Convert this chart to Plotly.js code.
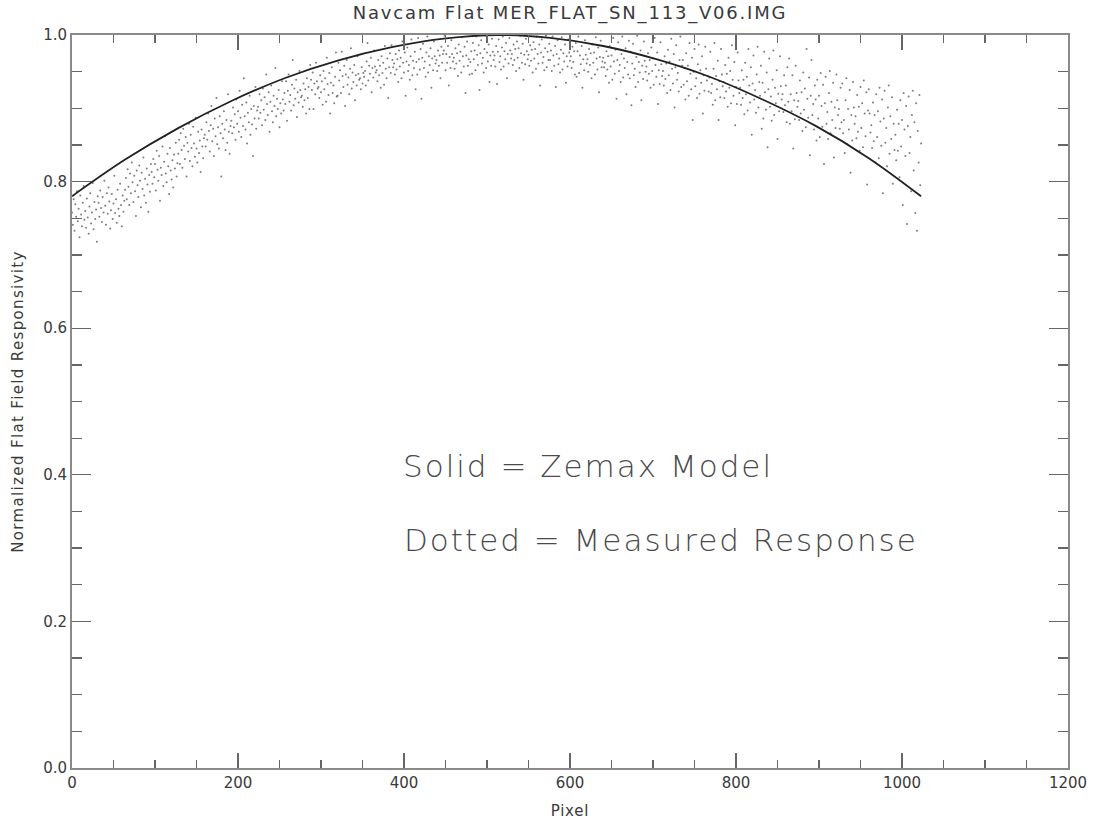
<!DOCTYPE html>
<html>
<head>
<meta charset="utf-8">
<script src="https://cdn.plot.ly/plotly-3.0.1.min.js"></script>
<style>
  html, body { margin: 0; padding: 0; background: #ffffff; }
  #chart { width: 1096px; height: 822px; }
  #chart .gtitle { letter-spacing: 1.8px; }
  #chart .xtitle { letter-spacing: 0.8px; }
  #chart .ytitle { letter-spacing: 1.35px; }
  #chart .annotation-text { letter-spacing: 2px; }
</style>
</head>
<body>
<div id="chart"></div>
<script>
// ---- Zemax model (solid line) ----
const modelPixel = [0, 64, 128, 192, 256, 320, 384, 448, 512, 576, 640, 704, 768, 832, 896, 960, 1023];
const modelResponse = [0.780, 0.830, 0.873, 0.910, 0.941, 0.965, 0.983, 0.995, 1.000, 0.996, 0.985, 0.967, 0.943, 0.912, 0.876, 0.832, 0.780];

// ---- Measured response (dots), one value per pixel column ----
const measuredPixel = [
  0,1,2,3,4,5,6,7,8,9,10,11,12,13,14,15,16,17,18,19,20,21,22,23,24,25,26,27,28,29,30,31,
  32,33,34,35,36,37,38,39,40,41,42,43,44,45,46,47,48,49,50,51,52,53,54,55,56,57,58,59,60,61,62,63,
  64,65,66,67,68,69,70,71,72,73,74,75,76,77,78,79,80,81,82,83,84,85,86,87,88,89,90,91,92,93,94,95,
  96,97,98,99,100,101,102,103,104,105,106,107,108,109,110,111,112,113,114,115,116,117,118,119,120,121,122,123,124,125,126,127,
  128,129,130,131,132,133,134,135,136,137,138,139,140,141,142,143,144,145,146,147,148,149,150,151,152,153,154,155,156,157,158,159,
  160,161,162,163,164,165,166,167,168,169,170,171,172,173,174,175,176,177,178,179,180,181,182,183,184,185,186,187,188,189,190,191,
  192,193,194,195,196,197,198,199,200,201,202,203,204,205,206,207,208,209,210,211,212,213,214,215,216,217,218,219,220,221,222,223,
  224,225,226,227,228,229,230,231,232,233,234,235,236,237,238,239,240,241,242,243,244,245,246,247,248,249,250,251,252,253,254,255,
  256,257,258,259,260,261,262,263,264,265,266,267,268,269,270,271,272,273,274,275,276,277,278,279,280,281,282,283,284,285,286,287,
  288,289,290,291,292,293,294,295,296,297,298,299,300,301,302,303,304,305,306,307,308,309,310,311,312,313,314,315,316,317,318,319,
  320,321,322,323,324,325,326,327,328,329,330,331,332,333,334,335,336,337,338,339,340,341,342,343,344,345,346,347,348,349,350,351,
  352,353,354,355,356,357,358,359,360,361,362,363,364,365,366,367,368,369,370,371,372,373,374,375,376,377,378,379,380,381,382,383,
  384,385,386,387,388,389,390,391,392,393,394,395,396,397,398,399,400,401,402,403,404,405,406,407,408,409,410,411,412,413,414,415,
  416,417,418,419,420,421,422,423,424,425,426,427,428,429,430,431,432,433,434,435,436,437,438,439,440,441,442,443,444,445,446,447,
  448,449,450,451,452,453,454,455,456,457,458,459,460,461,462,463,464,465,466,467,468,469,470,471,472,473,474,475,476,477,478,479,
  480,481,482,483,484,485,486,487,488,489,490,491,492,493,494,495,496,497,498,499,500,501,502,503,504,505,506,507,508,509,510,511,
  512,513,514,515,516,517,518,519,520,521,522,523,524,525,526,527,528,529,530,531,532,533,534,535,536,537,538,539,540,541,542,543,
  544,545,546,547,548,549,550,551,552,553,554,555,556,557,558,559,560,561,562,563,564,565,566,567,568,569,570,571,572,573,574,575,
  576,577,578,579,580,581,582,583,584,585,586,587,588,589,590,591,592,593,594,595,596,597,598,599,600,601,602,603,604,605,606,607,
  608,609,610,611,612,613,614,615,616,617,618,619,620,621,622,623,624,625,626,627,628,629,630,631,632,633,634,635,636,637,638,639,
  640,641,642,643,644,645,646,647,648,649,650,651,652,653,654,655,656,657,658,659,660,661,662,663,664,665,666,667,668,669,670,671,
  672,673,674,675,676,677,678,679,680,681,682,683,684,685,686,687,688,689,690,691,692,693,694,695,696,697,698,699,700,701,702,703,
  704,705,706,707,708,709,710,711,712,713,714,715,716,717,718,719,720,721,722,723,724,725,726,727,728,729,730,731,732,733,734,735,
  736,737,738,739,740,741,742,743,744,745,746,747,748,749,750,751,752,753,754,755,756,757,758,759,760,761,762,763,764,765,766,767,
  768,769,770,771,772,773,774,775,776,777,778,779,780,781,782,783,784,785,786,787,788,789,790,791,792,793,794,795,796,797,798,799,
  800,801,802,803,804,805,806,807,808,809,810,811,812,813,814,815,816,817,818,819,820,821,822,823,824,825,826,827,828,829,830,831,
  832,833,834,835,836,837,838,839,840,841,842,843,844,845,846,847,848,849,850,851,852,853,854,855,856,857,858,859,860,861,862,863,
  864,865,866,867,868,869,870,871,872,873,874,875,876,877,878,879,880,881,882,883,884,885,886,887,888,889,890,891,892,893,894,895,
  896,897,898,899,900,901,902,903,904,905,906,907,908,909,910,911,912,913,914,915,916,917,918,919,920,921,922,923,924,925,926,927,
  928,929,930,931,932,933,934,935,936,937,938,939,940,941,942,943,944,945,946,947,948,949,950,951,952,953,954,955,956,957,958,959,
  960,961,962,963,964,965,966,967,968,969,970,971,972,973,974,975,976,977,978,979,980,981,982,983,984,985,986,987,988,989,990,991,
  992,993,994,995,996,997,998,999,1000,1001,1002,1003,1004,1005,1006,1007,1008,1009,1010,1011,1012,1013,1014,1015,1016,1017,1018,1019,1020,1021,1022,1023
];
const measuredResponse = [
  .758,.741,.776,.733,.769,.752,.787,.746,.763,.724,.781,.755,.739,.771,.794,.748,.760,.737,.777,.751,.729,.766,.784,.743,.758,.798,.735,.772,.749,.762,.718,.780,
  .771,.752,.788,.764,.745,.779,.758,.801,.767,.741,.784,.756,.792,.773,.736,.761,.783,.749,.770,.808,.757,.776,.744,.789,.763,.753,.797,.768,.739,.781,.759,.774,
  .789,.805,.776,.817,.793,.768,.811,.784,.826,.799,.772,.808,.787,.753,.815,.795,.779,.822,.801,.765,.812,.790,.833,.781,.804,.771,.818,.796,.759,.809,.786,.824,
  .813,.797,.831,.806,.824,.788,.842,.816,.801,.835,.774,.819,.809,.848,.794,.827,.862,.811,.799,.838,.821,.783,.846,.815,.803,.829,.792,.837,.818,.853,.807,.825,
  .838,.857,.824,.866,.843,.819,.872,.849,.831,.861,.807,.853,.841,.879,.828,.864,.846,.821,.875,.852,.834,.887,.845,.826,.868,.839,.856,.813,.871,.848,.832,.859,
  .864,.848,.881,.857,.893,.869,.841,.877,.903,.855,.872,.835,.886,.862,.914,.851,.874,.845,.889,.866,.807,.879,.859,.896,.871,.843,.884,.853,.919,.868,.838,.876,
  .883,.866,.901,.874,.892,.857,.912,.879,.896,.868,.924,.887,.861,.905,.876,.941,.889,.871,.908,.852,.894,.881,.917,.864,.899,.878,.835,.903,.886,.929,.872,.897,
  .902,.886,.919,.894,.911,.877,.927,.898,.915,.884,.946,.906,.891,.922,.868,.909,.931,.896,.881,.917,.903,.955,.889,.913,.899,.925,.874,.907,.893,.937,.912,.897,
  .921,.906,.937,.883,.924,.946,.909,.918,.897,.932,.966,.904,.927,.913,.939,.888,.922,.908,.951,.925,.915,.917,.902,.934,.911,.926,.893,.941,.914,.929,.899,.959,
  .939,.925,.949,.899,.934,.919,.962,.937,.927,.929,.914,.945,.922,.937,.905,.951,.926,.941,.909,.969,.933,.918,.948,.893,.935,.956,.921,.931,.907,.943,.976,.916,
  .917,.962,.938,.952,.921,.977,.944,.929,.958,.903,.946,.966,.932,.942,.919,.954,.982,.927,.949,.936,.959,.911,.945,.931,.971,.947,.939,.941,.926,.956,.934,.948,
  .943,.951,.931,.964,.989,.938,.958,.947,.969,.922,.955,.942,.979,.957,.949,.952,.937,.966,.945,.958,.928,.971,.948,.962,.932,.985,.954,.941,.968,.914,.956,.975,
  .948,.986,.966,.956,.961,.946,.974,.953,.967,.936,.979,.957,.969,.941,.991,.962,.949,.976,.917,.964,.983,.951,.959,.939,.971,.994,.945,.965,.955,.977,.926,.963,
  .946,.996,.967,.953,.981,.913,.969,.988,.955,.964,.943,.976,.998,.949,.971,.959,.982,.928,.968,.952,.991,.971,.961,.966,.951,.979,.958,.972,.941,.984,.962,.974,
  .979,.999,.952,.974,.962,.985,.931,.970,.955,.993,.974,.964,.969,.954,.982,.961,.975,.944,.987,.965,.977,.949,.997,.971,.957,.984,.921,.972,.991,.958,.967,.946,
  .963,.978,.947,.989,.967,.979,.952,.998,.973,.959,.986,.925,.975,.993,.961,.969,.949,.981,.999,.955,.976,.964,.987,.936,.972,.958,.995,.977,.966,.972,.957,.985,
  .933,.977,.994,.963,.971,.953,.983,.998,.957,.978,.967,.989,.941,.974,.961,.996,.979,.968,.974,.959,.987,.966,.981,.951,.991,.969,.982,.955,.999,.975,.962,.988,
  .939,.973,.960,.995,.978,.967,.973,.958,.986,.965,.980,.949,.990,.968,.981,.954,.998,.974,.961,.987,.931,.976,.994,.962,.970,.952,.982,.999,.956,.977,.966,.988,
  .966,.979,.951,.998,.972,.958,.985,.929,.974,.993,.960,.968,.949,.980,.997,.953,.975,.964,.987,.935,.971,.957,.994,.976,.965,.971,.955,.984,.963,.978,.946,.989,
  .943,.978,.998,.948,.972,.960,.985,.928,.967,.952,.993,.973,.961,.967,.950,.981,.959,.975,.941,.987,.962,.976,.946,.997,.968,.953,.983,.922,.970,.992,.956,.964,
  .969,.956,.962,.944,.978,.953,.971,.935,.985,.957,.972,.939,.996,.964,.947,.980,.913,.966,.990,.951,.959,.936,.974,.998,.942,.968,.955,.982,.919,.963,.946,.992,
  .941,.977,.904,.961,.988,.945,.954,.929,.970,.999,.936,.963,.949,.979,.911,.958,.940,.991,.965,.950,.957,.938,.975,.947,.966,.928,.983,.951,.968,.932,.996,.959,
  .943,.976,.906,.952,.933,.990,.960,.944,.951,.931,.971,.940,.961,.921,.980,.945,.964,.925,.995,.954,.934,.974,.901,.956,.986,.939,.948,.923,.966,.998,.929,.958,
  .966,.932,.955,.912,.975,.937,.958,.917,.989,.947,.926,.969,.884,.950,.981,.930,.941,.914,.960,.987,.920,.952,.935,.971,.893,.945,.924,.984,.954,.938,.944,.923,
  .942,.977,.921,.933,.905,.954,.989,.911,.944,.926,.965,.884,.937,.915,.981,.946,.930,.936,.914,.959,.923,.947,.902,.969,.928,.951,.907,.986,.939,.917,.963,.877,
  .929,.906,.976,.938,.921,.928,.905,.952,.914,.939,.892,.962,.919,.943,.897,.981,.931,.908,.956,.864,.934,.972,.912,.925,.894,.946,.984,.901,.936,.917,.958,.872,
  .935,.886,.977,.922,.898,.949,.847,.926,.968,.902,.916,.883,.939,.979,.891,.928,.907,.952,.858,.920,.896,.971,.930,.912,.919,.895,.945,.904,.931,.881,.956,.909,
  .968,.879,.919,.896,.945,.845,.911,.885,.958,.921,.902,.910,.884,.938,.893,.922,.869,.949,.898,.927,.874,.981,.913,.887,.942,.836,.917,.966,.891,.906,.871,.931,
  .912,.856,.939,.886,.917,.861,.948,.903,.875,.932,.824,.907,.943,.879,.895,.858,.921,.951,.866,.909,.884,.935,.833,.901,.873,.946,.911,.891,.899,.872,.928,.881,
  .934,.866,.884,.839,.911,.941,.851,.899,.871,.925,.812,.891,.856,.936,.901,.879,.889,.859,.918,.868,.902,.842,.929,.873,.907,.847,.938,.893,.862,.922,.796,.897,
  .926,.893,.867,.877,.846,.908,.855,.891,.826,.919,.861,.896,.832,.928,.882,.849,.912,.784,.886,.924,.853,.873,.821,.901,.931,.838,.889,.858,.915,.797,.879,.843,
  .864,.829,.898,.842,.879,.806,.911,.848,.884,.768,.921,.871,.835,.903,.742,.876,.916,.839,.861,.787,.891,.924,.815,.881,.757,.907,.733,.869,.826,.918,.795,.852
];

// ---- Text ----
const chartTitle = 'Navcam Flat MER_FLAT_SN_113_V06.IMG';
const xTitle = 'Pixel';
const yTitle = 'Normalized Flat Field Responsivity';
const noteSolid = 'Solid = Zemax Model';
const noteDotted = 'Dotted = Measured Response';

const FONT = 'DejaVu Sans, sans-serif';
const TXT = '#3a3a3a';
const AX = '#8a8a8a';

const traces = [
  {
    x: measuredPixel, y: measuredResponse,
    type: 'scatter', mode: 'markers',
    marker: { size: 2, color: '#444444', opacity: 0.7 },
    hoverinfo: 'skip', showlegend: false
  },
  {
    x: modelPixel, y: modelResponse,
    type: 'scatter', mode: 'lines',
    line: { color: '#222222', width: 1.8, shape: 'spline', smoothing: 1.0 },
    hoverinfo: 'skip', showlegend: false
  }
];

const axisCommon = {
  showgrid: false, zeroline: false,
  showline: true, linecolor: AX, linewidth: 2,
  ticks: 'inside', tickcolor: '#666666', tickwidth: 1.3,
  mirror: 'ticks',
  tickfont: { family: FONT, size: 15, color: TXT },
  fixedrange: true
};

const layout = {
  width: 1096, height: 822,
  margin: { l: 72, r: 28, t: 35, b: 54 },
  paper_bgcolor: '#ffffff', plot_bgcolor: '#ffffff',
  font: { family: FONT, color: TXT },
  title: {
    text: chartTitle,
    font: { family: FONT, size: 18, color: TXT },
    x: 0.5, xref: 'paper', xanchor: 'center',
    y: 1 - 13 / 822, yref: 'container', yanchor: 'middle'
  },
  xaxis: Object.assign({}, axisCommon, {
    range: [0, 1200], tick0: 0, dtick: 200, ticklen: 15,
    minor: { dtick: 50, ticklen: 8, ticks: 'inside', tickcolor: '#666666', tickwidth: 1.3 },
    title: { text: xTitle, font: { family: FONT, size: 15, color: TXT }, standoff: 14 }
  }),
  yaxis: Object.assign({}, axisCommon, {
    range: [0, 1.0], tick0: 0, dtick: 0.2, tickformat: '.1f', ticklen: 19,
    minor: { dtick: 0.05, ticklen: 10, ticks: 'inside', tickcolor: '#666666', tickwidth: 1.3 },
    title: { text: yTitle, font: { family: FONT, size: 15, color: TXT }, standoff: 16 }
  }),
  annotations: [
    { x: 622, y: 0.412, xref: 'x', yref: 'y', text: noteSolid, showarrow: false,
      xanchor: 'center', yanchor: 'middle', font: { family: FONT, size: 31, color: '#4a4a4a', weight: 200 } },
    { x: 710, y: 0.311, xref: 'x', yref: 'y', text: noteDotted, showarrow: false,
      xanchor: 'center', yanchor: 'middle', font: { family: FONT, size: 31, color: '#4a4a4a', weight: 200 } }
  ]
};

Plotly.newPlot('chart', traces, layout, { staticPlot: true, displayModeBar: false });
</script>
</body>
</html>
